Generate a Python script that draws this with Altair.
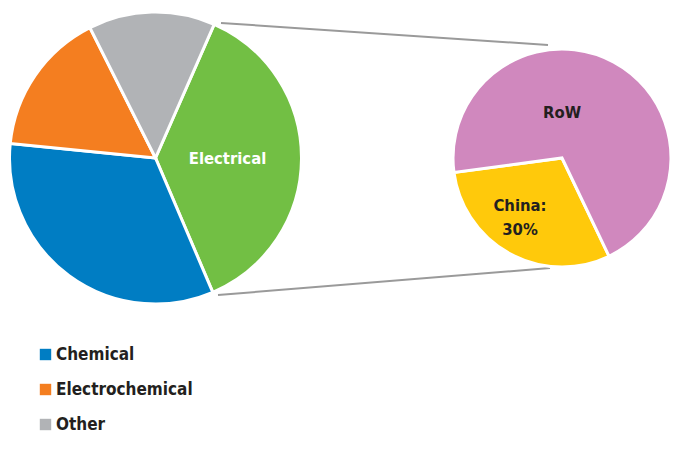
import math
import altair as alt
import pandas as pd

# ---- data ----
main_cats = ["Electrical", "Chemical", "Electrochemical", "Other"]
main_vals = [37, 33, 16, 14]
main_colors = ["#72BF44", "#007DC3", "#F47E20", "#B1B3B6"]

sub_cats = ["China", "RoW"]
sub_vals = [30, 70]
sub_colors = ["#FFC90B", "#D088BE"]
sub_labels = [["China:", "30%"], ["RoW"]]

legend_items = ["Chemical", "Electrochemical", "Other"]

FONT = "DejaVu Sans Condensed, Liberation Sans Narrow, sans-serif"
TXT = "#231F20"

main_df = pd.DataFrame({"segment": main_cats, "share": main_vals, "ord": range(len(main_cats))})
sub_df = pd.DataFrame({"region": sub_cats, "share": sub_vals, "ord": range(len(sub_cats)),
                       "label": sub_labels})

# big pie
a0 = math.radians(23.7)
big_theta = alt.Theta("share:Q", stack=True, scale=alt.Scale(range=[a0, a0 + 2 * math.pi]))
bx, by = 155.5, 158

big = alt.Chart(main_df).mark_arc(radius=146, stroke="white", strokeWidth=3).encode(
    x=alt.value(bx), y=alt.value(by),
    theta=big_theta,
    order=alt.Order("ord:Q"),
    color=alt.Color("segment:N",
                    scale=alt.Scale(domain=main_cats, range=main_colors),
                    legend=alt.Legend(values=legend_items, title=None, orient="none",
                                      legendX=37, legendY=346, padding=0, symbolType="square",
                                      symbolSize=130, symbolStrokeWidth=0,
                                      labelFont=FONT, labelFontSize=17, labelFontWeight="bold",
                                      labelColor=TXT, labelOffset=2, rowPadding=17)),
)

big_label = alt.Chart(main_df).transform_filter(alt.datum.segment == "Electrical").mark_text(
    radius=72, font=FONT, fontSize=16.5, fontWeight="bold", color="white", dy=1
).encode(
    x=alt.value(bx), y=alt.value(by),
    theta=alt.Theta("share:Q", stack=True, scale=alt.Scale(domain=[0, 100], range=[a0, a0 + 2 * math.pi])),
    order=alt.Order("ord:Q"),
    text="segment:N",
)

# small pie
a1 = math.radians(154.4)
sx, sy = 562, 158
small = alt.Chart(sub_df).mark_arc(radius=109, stroke="white", strokeWidth=3).encode(
    x=alt.value(sx), y=alt.value(sy),
    theta=alt.Theta("share:Q", stack=True, scale=alt.Scale(range=[a1, a1 + 2 * math.pi])),
    order=alt.Order("ord:Q"),
    color=alt.Color("region:N", scale=alt.Scale(domain=sub_cats, range=sub_colors), legend=None),
)

china_lbl = alt.Chart(sub_df).transform_filter(alt.datum.region == "China").mark_text(
    font=FONT, fontSize=16.5, fontWeight="bold", color=TXT, lineHeight=24
).encode(x=alt.value(520), y=alt.value(206), text="label")

row_lbl = alt.Chart(sub_df).transform_filter(alt.datum.region == "RoW").mark_text(
    font=FONT, fontSize=16.5, fontWeight="bold", color=TXT
).encode(x=alt.value(562), y=alt.value(113), text="region:N")

# connector lines
conn_df = pd.DataFrame({"k": [0]})
line_top = alt.Chart(conn_df).mark_rule(color="#9A9A9A", strokeWidth=2).encode(
    x=alt.value(221), y=alt.value(23), x2=alt.value(548), y2=alt.value(45))
line_bot = alt.Chart(conn_df).mark_rule(color="#9A9A9A", strokeWidth=2).encode(
    x=alt.value(218), y=alt.value(295), x2=alt.value(550), y2=alt.value(268))

chart = alt.layer(line_top, line_bot, big, big_label, small, china_lbl, row_lbl).resolve_scale(
    color="independent", theta="independent"
).properties(
    width=682, height=452, padding=0, autosize="none", background="white"
).configure_view(stroke=None)

chart.save("out.html", embed_options={"renderer": "svg", "actions": False})
